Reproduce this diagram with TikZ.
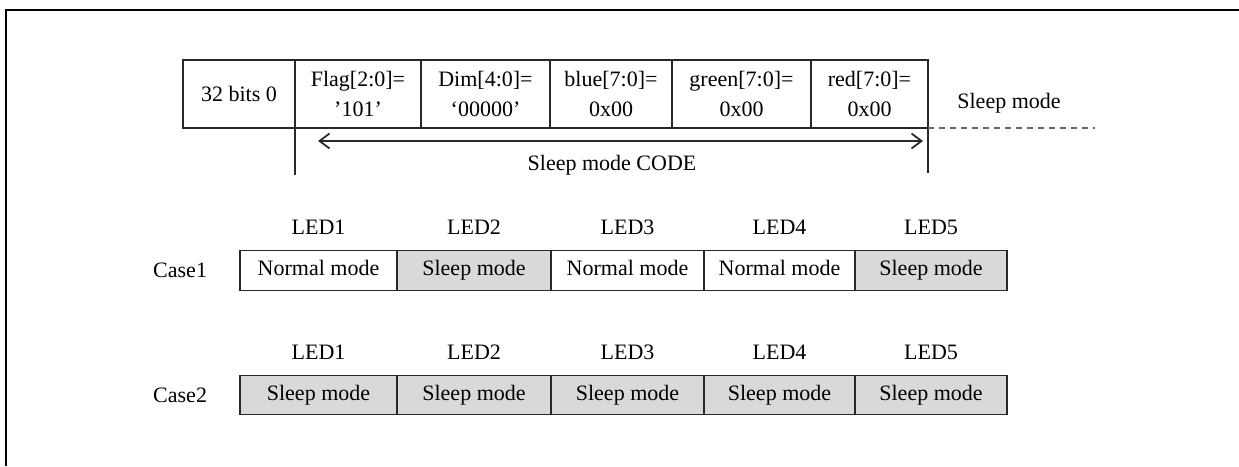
\documentclass[tikz,border=0pt]{standalone}
\usepackage{fontspec}
\setmainfont{Liberation Serif}
\usepackage{tikz}
\usetikzlibrary{positioning, calc, arrows.meta}

\definecolor{sleepgray}{RGB}{217,217,217}
\definecolor{boxline}{RGB}{40,40,40}

\tikzset{
  field/.style={draw=boxline, line width=1.4pt, minimum height=68pt, inner sep=0pt, outer sep=0pt, align=center, font=\fontsize{22}{24}\selectfont},
  ledbox/.style={draw=boxline, line width=1.4pt, minimum height=39.5pt, inner sep=0pt, outer sep=0pt, text height=15pt, text depth=5pt, font=\fontsize{22}{24}\selectfont},
  normalbox/.style={ledbox, fill=white},
  sleepbox/.style={ledbox, fill=sleepgray},
  ledlabel/.style={inner sep=0pt, outer sep=0pt, font=\fontsize{22}{24}\selectfont},
}

\begin{document}
\begin{tikzpicture}[x=1pt,y=-1pt]
  \useasboundingbox (0,0) rectangle (1239,466);

  % Frame
  \draw[line width=2.4pt] (6,466) -- (6,10) -- (1239,10);

  % Data word
  \node[field, minimum width=112pt, anchor=west] (zero) at (183,94) {32 bits 0};
  \node[field, minimum width=126pt, right=0pt of zero] (flag) {Flag[2:0]=\\[6pt]'101'};
  \node[field, minimum width=129pt, right=0pt of flag] (dim) {Dim[4:0]=\\[6pt]`00000'};
  \node[field, minimum width=122pt, right=0pt of dim] (blue) {blue[7:0]=\\[6pt]0x00};
  \node[field, minimum width=139pt, right=0pt of blue] (green) {green[7:0]=\\[6pt]0x00};
  \node[field, minimum width=117pt, right=0pt of green] (red) {red[7:0]=\\[6pt]0x00};
  \node[ledlabel] (sleeplbl) at (1009,103) {Sleep mode};

  % Code span
  \coordinate (tickL) at (295,175);
  \coordinate (tickR) at (928,173);
  \coordinate (arrL) at (318,141);
  \coordinate (arrR) at (923,141);
  \coordinate (dashEnd) at (1095,128);
  \draw[line width=1.4pt, boxline] (flag.south west) -- (tickL);
  \draw[line width=1.4pt, boxline] (red.south east) -- (tickR);
  \draw[line width=1.3pt, gray!80!black, dash pattern=on 6pt off 5pt] (red.south east) -- (dashEnd);
  \draw[{Straight Barb[length=10pt,width=15pt]}-{Straight Barb[length=10pt,width=15pt]}, line width=1.8pt, boxline] (arrL) -- (arrR);
  \node[ledlabel] (code) at (612,165) {Sleep mode CODE};

  % Case1
  \node[normalbox, minimum width=157pt, anchor=west] (c1a) at (240,270.5) {Normal mode};
  \node[sleepbox, minimum width=154pt, right=0pt of c1a] (c1b) {Sleep mode};
  \node[normalbox, minimum width=153pt, right=0pt of c1b] (c1c) {Normal mode};
  \node[normalbox, minimum width=151pt, right=0pt of c1c] (c1d) {Normal mode};
  \node[sleepbox, minimum width=152pt, right=0pt of c1d] (c1e) {Sleep mode};
  \node[ledlabel, left=33pt of c1a] (case1) {Case1};
  \node[ledlabel, above=16pt of c1a] (led1a) {LED1};
  \node[ledlabel, above=16pt of c1b] (led1b) {LED2};
  \node[ledlabel, above=16pt of c1c] (led1c) {LED3};
  \node[ledlabel, above=16pt of c1d] (led1d) {LED4};
  \node[ledlabel, above=16pt of c1e] (led1e) {LED5};

  % Case2
  \node[sleepbox, minimum width=157pt, anchor=west] (c2a) at (240,395) {Sleep mode};
  \node[sleepbox, minimum width=154pt, right=0pt of c2a] (c2b) {Sleep mode};
  \node[sleepbox, minimum width=153pt, right=0pt of c2b] (c2c) {Sleep mode};
  \node[sleepbox, minimum width=151pt, right=0pt of c2c] (c2d) {Sleep mode};
  \node[sleepbox, minimum width=152pt, right=0pt of c2d] (c2e) {Sleep mode};
  \node[ledlabel, left=33pt of c2a] (case2) {Case2};
  \node[ledlabel, above=16pt of c2a] (led2a) {LED1};
  \node[ledlabel, above=16pt of c2b] (led2b) {LED2};
  \node[ledlabel, above=16pt of c2c] (led2c) {LED3};
  \node[ledlabel, above=16pt of c2d] (led2d) {LED4};
  \node[ledlabel, above=16pt of c2e] (led2e) {LED5};
\end{tikzpicture}
\end{document}
